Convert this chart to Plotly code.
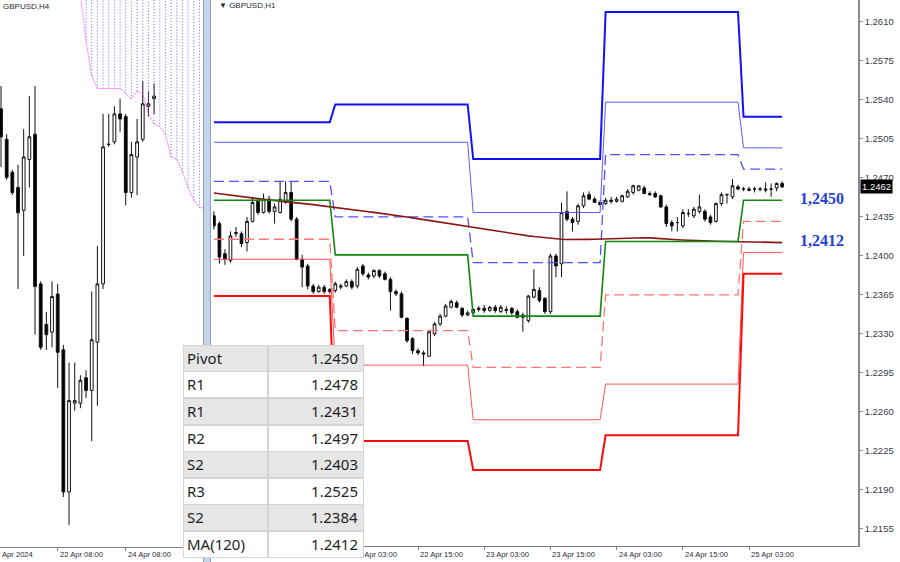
import plotly.graph_objects as go

W, H = 900, 562

# ---------------- H1 chart data (GBPUSD, H1) ----------------
h1_open = [1.2436,1.2429,1.2402,1.2396,1.2420,1.2420,1.2412,1.2431,1.2449,1.2439,
           1.2451,1.2440,1.2439,1.2448,1.2457,1.2433,1.2397,1.2391,1.2373,1.2368,
           1.2372,1.2368,1.2369,1.2372,1.2373,1.2377,1.2373,1.2391,1.2383,1.2382,
           1.2387,1.2384,1.2379,1.2368,1.2366,1.2344,1.2326,1.2315,1.2313,1.2310,
           1.2330,1.2339,1.2346,1.2354,1.2358,1.2353,1.2347,1.2349,1.2352,1.2353,
           1.2351,1.2354,1.2350,1.2351,1.2353,1.2350,1.2347,1.2342,1.2363,1.2369,
           1.2362,1.2350,1.2400,1.2393,1.2440,1.2433,1.2431,1.2445,1.2455,1.2451,
           1.2448,1.2447,1.2450,1.2449,1.2449,1.2453,1.2457,1.2459,1.2461,1.2456,
           1.2456,1.2454,1.2444,1.2430,1.2430,1.2427,1.2438,1.2436,1.2440,1.2440,
           1.2435,1.2431,1.2447,1.2455,1.2453,1.2462,1.2460,1.2460,1.2460,1.2460,
           1.2459,1.2460,1.2461,1.2465]
h1_high = [1.2440,1.2431,1.2406,1.2422,1.2426,1.2422,1.2435,1.2453,1.2452,1.2456,
           1.2454,1.2447,1.2467,1.2467,1.2467,1.2435,1.2401,1.2393,1.2375,1.2374,
           1.2374,1.2371,1.2377,1.2375,1.2379,1.2379,1.2390,1.2393,1.2385,1.2388,
           1.2388,1.2386,1.2381,1.2370,1.2368,1.2345,1.2327,1.2317,1.2315,1.2334,
           1.2341,1.2348,1.2357,1.2361,1.2360,1.2354,1.2351,1.2353,1.2355,1.2356,
           1.2355,1.2356,1.2356,1.2355,1.2354,1.2352,1.2349,1.2365,1.2388,1.2372,
           1.2363,1.2402,1.2402,1.2448,1.2458,1.2435,1.2447,1.2457,1.2458,1.2453,
           1.2450,1.2452,1.2453,1.2453,1.2455,1.2460,1.2464,1.2463,1.2463,1.2458,
           1.2458,1.2455,1.2446,1.2432,1.2435,1.2442,1.2442,1.2444,1.2455,1.2442,
           1.2437,1.2448,1.2457,1.2456,1.2469,1.2464,1.2462,1.2462,1.2462,1.2462,
           1.2466,1.2465,1.2466,1.2467]
h1_low = [1.2424,1.2393,1.2392,1.2394,1.2417,1.2408,1.2404,1.2430,1.2437,1.2438,
          1.2438,1.2429,1.2438,1.2447,1.2431,1.2396,1.2372,1.2370,1.2366,1.2367,
          1.2366,1.2366,1.2367,1.2370,1.2372,1.2370,1.2371,1.2382,1.2379,1.2380,
          1.2380,1.2378,1.2351,1.2364,1.2344,1.2322,1.2312,1.2311,1.2301,1.2310,
          1.2328,1.2337,1.2345,1.2353,1.2353,1.2345,1.2346,1.2348,1.2350,1.2349,
          1.2350,1.2349,1.2349,1.2348,1.2347,1.2344,1.2332,1.2340,1.2362,1.2358,
          1.2348,1.2348,1.2381,1.2381,1.2431,1.2422,1.2428,1.2443,1.2450,1.2448,
          1.2445,1.2446,1.2447,1.2448,1.2448,1.2452,1.2455,1.2458,1.2456,1.2454,
          1.2452,1.2443,1.2426,1.2422,1.2422,1.2425,1.2435,1.2434,1.2438,1.2431,
          1.2428,1.2430,1.2445,1.2447,1.2451,1.2459,1.2458,1.2458,1.2457,1.2458,
          1.2457,1.2453,1.2458,1.2461]
h1_close = [1.2427,1.2399,1.2397,1.2418,1.2421,1.2411,1.2431,1.2448,1.2439,1.2451,
            1.2440,1.2444,1.2451,1.2457,1.2433,1.2397,1.2390,1.2373,1.2368,1.2372,
            1.2368,1.2370,1.2375,1.2373,1.2377,1.2372,1.2388,1.2384,1.2381,1.2387,
            1.2382,1.2379,1.2368,1.2366,1.2345,1.2324,1.2315,1.2313,1.2312,1.2332,
            1.2339,1.2346,1.2355,1.2359,1.2354,1.2347,1.2349,1.2352,1.2353,1.2351,
            1.2354,1.2351,1.2354,1.2352,1.2349,1.2345,1.2345,1.2364,1.2370,1.2360,
            1.2350,1.2400,1.2391,1.2439,1.2433,1.2430,1.2445,1.2454,1.2451,1.2448,
            1.2446,1.2450,1.2449,1.2451,1.2454,1.2458,1.2463,1.2463,1.2456,1.2455,
            1.2453,1.2444,1.2429,1.2427,1.2430,1.2439,1.2438,1.2442,1.2444,1.2433,
            1.2430,1.2447,1.2455,1.2455,1.2463,1.2460,1.2460,1.2459,1.2460,1.2460,
            1.2460,1.2460,1.2465,1.2462]
ma120 = [1.24565,1.24558,1.24551,1.24544,1.24538,1.24532,1.24526,1.24520,
         1.24514,1.24508,1.24503,1.24498,1.24494,1.24490,1.24486,1.24481,
         1.24475,1.24468,1.24461,1.24454,1.24447,1.24440,
         1.24433,1.24427,1.24421,1.24415,1.24409,1.24403,
         1.24397,1.24391,1.24385,1.24379,1.24372,1.24365,
         1.24358,1.24350,1.24342,1.24334,1.24326,1.24318,
         1.24310,1.24302,1.24294,1.24286,1.24278,1.24270,
         1.24262,1.24254,1.24246,1.24238,1.24230,1.24222,
         1.24214,1.24206,1.24199,1.24192,1.24186,1.24180,
         1.24174,1.24168,1.24162,1.24157,1.24153,1.24150,
         1.24148,1.24147,1.24147,1.24148,1.24149,1.24150,
         1.24152,1.24154,1.24156,1.24158,1.24160,1.24161,
         1.24162,1.24163,1.24163,1.24162,1.24160,1.24157,
         1.24154,1.24150,1.24146,1.24143,1.24140,1.24138,
         1.24136,1.24134,1.24133,1.24132,1.24131,1.24130,
         1.24129,1.24128,1.24126,1.24124,1.24122,1.24121,
         1.24120,1.24120,1.24120,1.24120]

# daily pivot levels (19, 22, 23, 24, 25 Apr), first H1 bar of each level period
day_start_bar = [0, 22, 47, 71, 96]
lvl_r3 = [1.2520, 1.2536, 1.2487, 1.2619, 1.2525]
lvl_r2 = [1.2502, 1.2502, 1.2439, 1.2538, 1.2497]
lvl_r1 = [1.2467, 1.2435, 1.2394, 1.2491, 1.2478]
lvl_p = [1.2450, 1.2401, 1.2346, 1.2413, 1.2450]
lvl_s1 = [1.2415, 1.2333, 1.2300, 1.2365, 1.2431]
lvl_s2 = [1.2397, 1.2302, 1.2253, 1.2285, 1.2403]
lvl_s3 = [1.2364, 1.2234, 1.2208, 1.2239, 1.2384]

h1_tick_bars = [25, 37, 49, 61, 73, 85, 97]
h1_tick_text = ["22 Apr 03:00", "22 Apr 15:00", "23 Apr 03:00", "23 Apr 15:00",
                "24 Apr 03:00", "24 Apr 15:00", "25 Apr 03:00"]
price_ticks = [1.2155, 1.2190, 1.2225, 1.2260, 1.2295, 1.2330, 1.2365, 1.2400,
               1.2435, 1.2470, 1.2505, 1.2540, 1.2575, 1.2610]
last_price = 1.2462
key_levels = [1.2450, 1.2412]
key_level_text = ["1,2450", "1,2412"]

# ---------------- H4 chart data (GBPUSD, H4) ----------------
h4_open = [1.2465,1.2453,1.2440,1.2434,1.2425,1.2445,1.2455,1.2396,1.2380,1.2377,
           1.2392,1.2370,1.2314,1.2349,1.2349,1.2359,1.2354,1.2373,1.2396,1.2451,
           1.2452,1.2463,1.2462,1.2432,1.2446,1.2453,1.2466,1.2469]
h4_high = [1.2474,1.2455,1.2441,1.2443,1.2457,1.2470,1.2474,1.2397,1.2385,1.2397,
           1.2396,1.2372,1.2365,1.2365,1.2360,1.2362,1.2393,1.2411,1.2463,1.2463,
           1.2466,1.2469,1.2463,1.2452,1.2461,1.2476,1.2472,1.2475]
h4_low = [1.2442,1.2437,1.2431,1.2394,1.2407,1.2434,1.2376,1.2370,1.2370,1.2371,
          1.2355,1.2312,1.2301,1.2346,1.2347,1.2351,1.2334,1.2348,1.2394,1.2450,
          1.2451,1.2456,1.2427,1.2430,1.2431,1.2452,1.2462,1.2463]
h4_close = [1.2454,1.2438,1.2432,1.2424,1.2446,1.2454,1.2395,1.2371,1.2376,1.2391,
            1.2369,1.2314,1.2350,1.2350,1.2358,1.2354,1.2374,1.2396,1.2450,1.2451,
            1.2463,1.2461,1.2432,1.2447,1.2452,1.2467,1.2467,1.2470]
cloud_first_bar = 14
cloud_span_a = [1.2510,1.2492,1.2478,1.2473,1.2473,1.2473,1.2473,1.2473,1.2471,1.2469,
                1.2472,1.2471,1.2463,1.2459,1.2458,1.2455,1.2446,1.2445,1.2440,1.2434,
                1.2429,1.2426,1.2426]
h4_tick_bars = [10, 22]
h4_tick_text = ["22 Apr 08:00", "24 Apr 08:00"]
h4_first_label = "Apr 2024"

# ---------------- table ----------------
table_labels = ["Pivot", "R1", "R1", "R2", "S2", "R3", "S2", "MA(120)"]
table_values = ["1.2450", "1.2478", "1.2431", "1.2497", "1.2403", "1.2525", "1.2384", "1.2412"]

# ---------------- geometry ----------------
H1_L, H1_R, H1_BOT = 213, 858, 546
H1_PX_PER_BAR = 5.517
H1_X0 = (H1_L - 213.9) / H1_PX_PER_BAR
H4_R, H4_BOT = 203, 547
H4_PX_PER_BAR = 5.67
H4_X0 = -0.176
Y_MAIN = [1.21397, 1.26297]
Y_H4 = [1.22923, 1.25079]


def px(xp):
    return xp / W


def py(yp):
    return 1 - yp / H


n = len(h1_open)
bars = list(range(n))


def expand(levels):
    out = []
    for i in bars:
        d = max(j for j, s in enumerate(day_start_bar) if s <= i)
        out.append(levels[d])
    return out


fig = go.Figure()

# H1 candles
fig.add_trace(go.Candlestick(
    x=bars, open=h1_open, high=h1_high, low=h1_low, close=h1_close,
    increasing=dict(line=dict(color="#111111", width=1), fillcolor="#ffffff"),
    decreasing=dict(line=dict(color="#111111", width=1), fillcolor="#000000"),
    whiskerwidth=0, xaxis="x", yaxis="y", hoverinfo="skip"))

level_styles = [
    (lvl_r3, "#1010ff", 2, "solid"),
    (lvl_r2, "#5a5aff", 1, "solid"),
    (lvl_r1, "#5050ff", 1.3, "10px,5px"),
    (lvl_s1, "#ff7575", 1.3, "10px,5px"),
    (lvl_s2, "#ff5555", 1, "solid"),
    (lvl_s3, "#ff0a0a", 2, "solid"),
]
for lv, col, wd, dash in level_styles:
    fig.add_trace(go.Scatter(x=bars, y=expand(lv), mode="lines",
                             line=dict(color=col, width=wd, dash=dash),
                             xaxis="x", yaxis="y", hoverinfo="skip"))
fig.add_trace(go.Scatter(x=bars, y=ma120, mode="lines",
                         line=dict(color="#8b1414", width=1.6),
                         xaxis="x", yaxis="y", hoverinfo="skip"))
fig.add_trace(go.Scatter(x=bars, y=expand(lvl_p), mode="lines",
                         line=dict(color="#118811", width=1.6),
                         xaxis="x", yaxis="y", hoverinfo="skip"))

# H4 ichimoku cloud (dotted hatch columns + magenta border)
cx, cy = [], []
cloud_bars = [cloud_first_bar + k for k in range(len(cloud_span_a))]
for b, a in zip(cloud_bars, cloud_span_a):
    cx += [b, b, None]
    cy += [a, Y_H4[1] + 0.001, None]
fig.add_trace(go.Scatter(x=cx, y=cy, mode="lines",
                         line=dict(color="#6a6aff", width=1, dash="1px,2px"),
                         xaxis="x2", yaxis="y2", hoverinfo="skip"))
fig.add_trace(go.Scatter(x=cloud_bars, y=cloud_span_a, mode="lines",
                         line=dict(color="#ff40ff", width=1, dash="1px,1px"),
                         xaxis="x2", yaxis="y2", hoverinfo="skip"))

# H4 candles
fig.add_trace(go.Candlestick(
    x=list(range(len(h4_open))), open=h4_open, high=h4_high, low=h4_low, close=h4_close,
    increasing=dict(line=dict(color="#111111", width=1), fillcolor="#ffffff"),
    decreasing=dict(line=dict(color="#111111", width=1), fillcolor="#000000"),
    whiskerwidth=0, xaxis="x2", yaxis="y2", hoverinfo="skip"))

yaxis_font = dict(family="Liberation Sans, Arial, sans-serif", size=9.5, color="#3a3a48")
xlab_font = dict(family="Liberation Sans, Arial, sans-serif", size=7.6, color="#2a2a38")
title_font = dict(family="Liberation Sans, Arial, sans-serif", size=8, color="#2a2a38")

fig.update_layout(
    width=W, height=H,
    margin=dict(l=0, r=0, t=0, b=0, autoexpand=False),
    paper_bgcolor="#ffffff", plot_bgcolor="#ffffff",
    showlegend=False,
    xaxis=dict(domain=[px(H1_L), px(H1_R)],
               range=[H1_X0, H1_X0 + (H1_R - H1_L) / H1_PX_PER_BAR],
               anchor="y", showgrid=False, zeroline=False,
               showline=True, linecolor="#808080", linewidth=1,
               ticks="outside", ticklen=3, tickcolor="#808080",
               tickvals=h1_tick_bars, showticklabels=False,
               rangeslider=dict(visible=False), fixedrange=True),
    yaxis=dict(domain=[1 - H1_BOT / H, 1], range=Y_MAIN, anchor="x", side="right",
               showgrid=False, zeroline=False,
               showline=True, linecolor="#8a8a8a", linewidth=1.5,
               ticks="outside", ticklen=3, tickcolor="#8a8a8a",
               tickvals=price_ticks, tickformat=".4f", tickfont=yaxis_font,
               fixedrange=True),
    xaxis2=dict(domain=[0, px(H4_R)],
                range=[H4_X0, H4_X0 + H4_R / H4_PX_PER_BAR],
                anchor="y2", showgrid=False, zeroline=False,
                showline=True, linecolor="#808080", linewidth=1,
                ticks="outside", ticklen=3, tickcolor="#808080",
                tickvals=h4_tick_bars, showticklabels=False,
                rangeslider=dict(visible=False), fixedrange=True),
    yaxis2=dict(domain=[1 - H4_BOT / H, 1], range=Y_H4, anchor="x2",
                visible=False, fixedrange=True),
)

shapes = [
    dict(type="rect", xref="paper", yref="paper", x0=px(203), x1=px(211), y0=0, y1=1,
         fillcolor="#c3d5ec", line=dict(width=0), layer="above"),
    dict(type="line", xref="paper", yref="paper", x0=px(203.5), x1=px(203.5), y0=0, y1=1,
         line=dict(color="#9a9a9a", width=1), layer="above"),
    dict(type="line", xref="paper", yref="paper", x0=px(210.5), x1=px(210.5), y0=0, y1=1,
         line=dict(color="#8aa0bc", width=1), layer="above"),
]
fig.update_layout(shapes=shapes)

ann = []
# axis labels H1
for b, t in zip(h1_tick_bars, h1_tick_text):
    ann.append(dict(x=b, xref="x", y=py(554.5), yref="paper", text=t, showarrow=False,
                    xanchor="left", yanchor="middle", xshift=0, font=xlab_font))
# axis labels H4
for b, t in zip(h4_tick_bars, h4_tick_text):
    ann.append(dict(x=b, xref="x2", y=py(554.5), yref="paper", text=t, showarrow=False,
                    xanchor="left", yanchor="middle", xshift=0, font=xlab_font))
ann.append(dict(x=px(0), xref="paper", y=py(554.5), yref="paper", text=h4_first_label,
                showarrow=False, xanchor="left", yanchor="middle", font=xlab_font))
# chart titles
ann.append(dict(x=px(1), xref="paper", y=py(6.5), yref="paper", text="GBPUSD,H4",
                showarrow=False, xanchor="left", yanchor="middle", font=title_font))
ann.append(dict(x=px(217), xref="paper", y=py(6), yref="paper", text="\u25bc GBPUSD,H1",
                showarrow=False, xanchor="left", yanchor="middle", font=title_font))
# key level labels
for v, t in zip(key_levels, key_level_text):
    ann.append(dict(x=px(822), xref="paper", y=v, yref="y", text="<b>" + t + "</b>",
                    showarrow=False, xanchor="center", yanchor="middle", yshift=2,
                    font=dict(family="Liberation Serif, Times New Roman, serif",
                              size=16, color="#2340d8")))
# last price tag
ann.append(dict(x=px(860), xref="paper", y=last_price, yref="y", text=f"{last_price:.4f}",
                showarrow=False, xanchor="left", yanchor="middle",
                bgcolor="#000000", borderpad=1,
                font=dict(family="Liberation Sans, Arial, sans-serif", size=9.5, color="#ffffff")))

# table (drawn last so it covers the chart beneath)
T_TOP, ROW_H = 345, 26.6
C0, C1, C2 = 183, 268, 364
BW, PAD_L, PAD_R = 1, 3, 5
cell_font = dict(family="Noto Sans, Open Sans, sans-serif", size=15, color="#1e1e1e")
for r, (lab, val) in enumerate(zip(table_labels, table_values)):
    yc = T_TOP + ROW_H * (r + 0.5)
    bg = "#e6e6e6" if r % 2 == 0 else "#ffffff"
    ann.append(dict(x=px((C0 + C1) / 2), xref="paper", y=py(yc), yref="paper",
                    text=lab, showarrow=False, xanchor="center", yanchor="middle",
                    width=(C1 - C0) - 2 * (BW + PAD_L), height=ROW_H - 2 * (BW + PAD_L),
                    align="left", bgcolor=bg, bordercolor="#d4d4d4", borderwidth=BW,
                    borderpad=PAD_L, font=cell_font))
    ann.append(dict(x=px((C1 + C2) / 2), xref="paper", y=py(yc), yref="paper",
                    text=val, showarrow=False, xanchor="center", yanchor="middle",
                    width=(C2 - C1) - 2 * (BW + PAD_R), height=ROW_H - 2 * (BW + PAD_R),
                    align="right", bgcolor=bg, bordercolor="#d4d4d4", borderwidth=BW,
                    borderpad=PAD_R, font=cell_font))
fig.update_layout(annotations=ann)

fig.write_html("out.html", config={"displayModeBar": False},
               post_script="document.body.style.margin='0px';document.body.style.overflow='hidden';")
